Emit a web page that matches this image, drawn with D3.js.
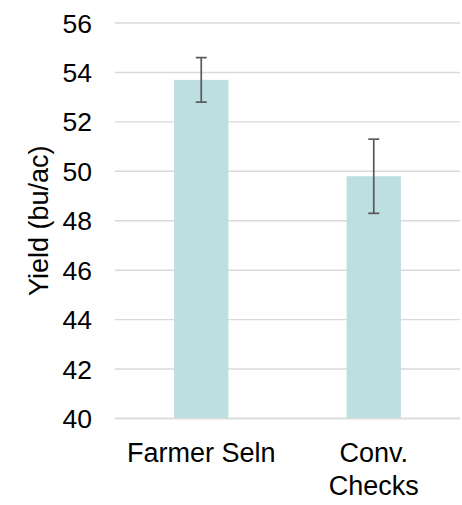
<!DOCTYPE html>
<html>
<head>
<meta charset="utf-8">
<script src="https://cdn.jsdelivr.net/npm/d3@7"></script>
<style>
  html, body { margin: 0; padding: 0; background: #fff; }
  text { font-family: "Liberation Sans", Arial, sans-serif; fill: #000; }
</style>
</head>
<body>
<svg id="chart" width="462" height="505"></svg>
<script>
const categories = [["Farmer Seln"], ["Conv.", "Checks"]];
const categoryKeys = ["Farmer Seln", "Conv. Checks"];
const yieldValues = [53.7, 49.8];
const errLow = [52.8, 48.3];
const errHigh = [54.6, 51.3];
const yTicks = [40, 42, 44, 46, 48, 50, 52, 54, 56];

const svg = d3.select("#chart");
const plotLeft = 115, plotRight = 460, plotTop = 23, plotBottom = 418.5;

const x = d3.scaleBand().domain(categoryKeys).range([plotLeft, plotRight]).padding(0);
const y = d3.scaleLinear().domain([40, 56]).range([plotBottom, plotTop]);
const barW = x.bandwidth() * 0.315;

// gridlines
svg.append("g").selectAll("line").data(yTicks).join("line")
  .attr("x1", plotLeft).attr("x2", plotRight)
  .attr("y1", d => y(d)).attr("y2", d => y(d))
  .attr("stroke", "#d9d9d9").attr("stroke-width", 1.4);

// y tick labels
svg.append("g").selectAll("text").data(yTicks).join("text")
  .attr("x", 92).attr("y", d => y(d))
  .attr("dy", "0.36em")
  .attr("text-anchor", "end")
  .style("font-size", "26.5px")
  .text(d => d);

// bars
svg.append("g").selectAll("rect").data(yieldValues).join("rect")
  .attr("x", (d, i) => x(categoryKeys[i]) + x.bandwidth() / 2 - barW / 2)
  .attr("width", barW)
  .attr("y", d => y(d))
  .attr("height", d => y(40) - y(d))
  .attr("fill", "#bcdfe2");

// baseline gridline over bars
svg.append("line")
  .attr("x1", plotLeft).attr("x2", plotRight)
  .attr("y1", y(40)).attr("y2", y(40))
  .attr("stroke", "#d9d9d9").attr("stroke-width", 1.4);

// error bars
const eg = svg.append("g").attr("stroke", "#595959").attr("stroke-width", 1.7);
categoryKeys.forEach((k, i) => {
  const cx = x(k) + x.bandwidth() / 2;
  eg.append("line").attr("x1", cx).attr("x2", cx).attr("y1", y(errLow[i])).attr("y2", y(errHigh[i]));
  eg.append("line").attr("x1", cx - 5.5).attr("x2", cx + 5.5).attr("y1", y(errLow[i])).attr("y2", y(errLow[i]));
  eg.append("line").attr("x1", cx - 5.5).attr("x2", cx + 5.5).attr("y1", y(errHigh[i])).attr("y2", y(errHigh[i]));
});

// category labels
categoryKeys.forEach((k, i) => {
  const cx = x(k) + x.bandwidth() / 2;
  const t = svg.append("text")
    .attr("text-anchor", "middle")
    .style("font-size", "27px");
  categories[i].forEach((line, j) => {
    t.append("tspan").attr("x", cx).attr("y", 461.5 + j * 33).text(line);
  });
});

// y axis title
svg.append("text")
  .attr("transform", `translate(48, ${(plotTop + plotBottom) / 2}) rotate(-90)`)
  .attr("text-anchor", "middle")
  .style("font-size", "27px")
  .text("Yield (bu/ac)");
</script>
</body>
</html>
